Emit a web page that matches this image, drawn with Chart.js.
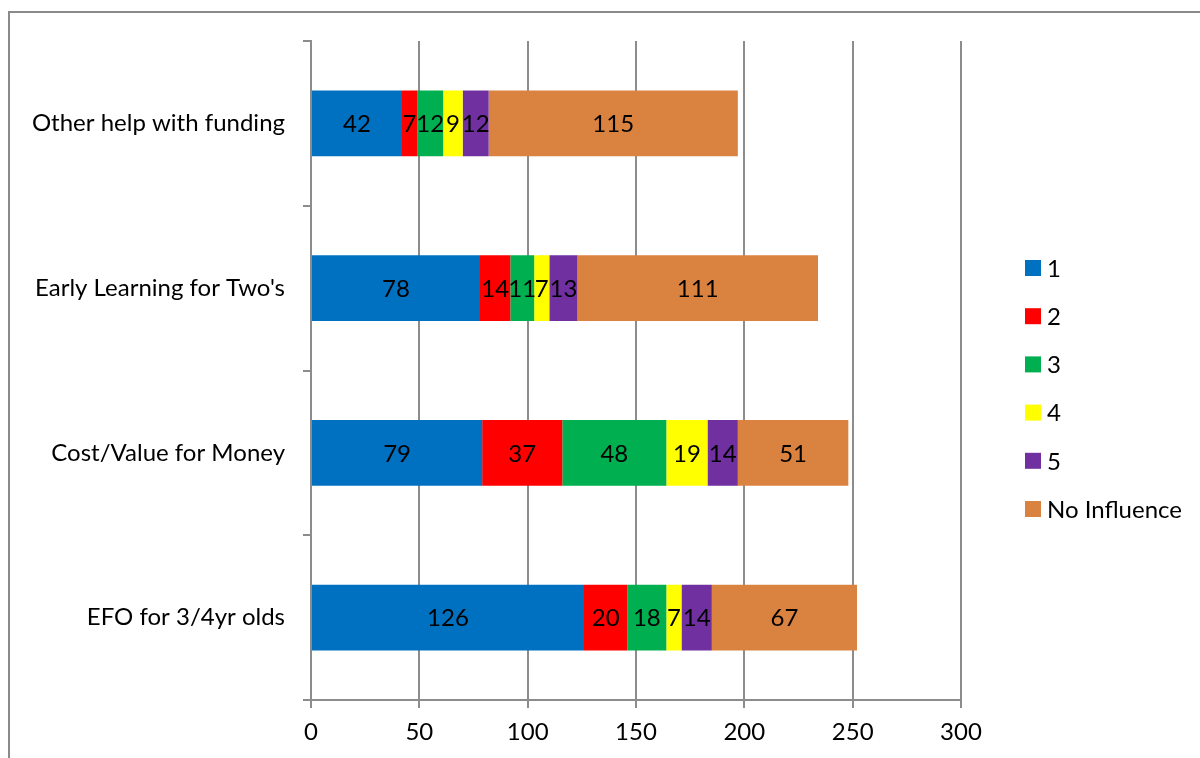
<!DOCTYPE html>
<html>
<head>
<meta charset="utf-8">
<script src="https://cdn.jsdelivr.net/npm/chart.js@4/dist/chart.umd.min.js"></script>
<style>
  html, body { margin: 0; padding: 0; background: #ffffff; }
  #wrap { width: 1200px; height: 758px; position: relative; }
</style>
</head>
<body>
<div id="wrap"><canvas id="c" width="1200" height="758"></canvas></div>
<script>
// Survey responses: how much each factor influenced the choice of childcare
const categories = [
  "Other help with funding",
  "Early Learning for Two's",
  "Cost/Value for Money",
  "EFO for 3/4yr olds"
];
const seriesNames = ["1", "2", "3", "4", "5", "No Influence"];
const rating1 = [42, 78, 79, 126];
const rating2 = [7, 14, 37, 20];
const rating3 = [12, 11, 48, 18];
const rating4 = [9, 7, 19, 7];
const rating5 = [12, 13, 14, 14];
const noInfluence = [115, 111, 51, 67];
const xTicks = [0, 50, 100, 150, 200, 250, 300];

const seriesValues = [rating1, rating2, rating3, rating4, rating5, noInfluence];
const seriesColors = ["#0070C0", "#FF0000", "#00B050", "#FFFF00", "#7030A0", "#DA8340"];

const FONT = "Lato, 'Open Sans', sans-serif";
const FONT_SIZE = 24;
const GRID = "#8c8c8c";

// Outer frame of the chart object
const framePlugin = {
  id: "frame",
  beforeDraw(chart) {
    const ctx = chart.ctx;
    ctx.save();
    ctx.fillStyle = "#ffffff";
    ctx.fillRect(0, 0, chart.width, chart.height);
    ctx.strokeStyle = "#8a8a8a";
    ctx.lineWidth = 2;
    ctx.beginPath();
    ctx.moveTo(9, chart.height + 2);
    ctx.lineTo(9, 12);
    ctx.lineTo(chart.width + 2, 12);
    ctx.stroke();
    ctx.restore();
  }
};

// Value labels centred on each bar segment
const valueLabelPlugin = {
  id: "valueLabels",
  afterDatasetsDraw(chart) {
    const ctx = chart.ctx;
    ctx.save();
    ctx.font = FONT_SIZE + "px " + FONT;
    ctx.fillStyle = "#000000";
    ctx.textAlign = "center";
    ctx.textBaseline = "middle";
    chart.data.datasets.forEach((ds, di) => {
      const meta = chart.getDatasetMeta(di);
      meta.data.forEach((el, i) => {
        const p = el.getCenterPoint();
        ctx.fillText(String(ds.data[i]), p.x, p.y + 1);
      });
    });
    ctx.restore();
  }
};

// Legend column on the right, built from the chart's own legend items
const sideLegendPlugin = {
  id: "sideLegend",
  afterDraw(chart) {
    const items = Chart.defaults.plugins.legend.labels.generateLabels(chart);
    const ctx = chart.ctx;
    ctx.save();
    ctx.font = FONT_SIZE + "px " + FONT;
    ctx.textAlign = "left";
    ctx.textBaseline = "middle";
    const x0 = 1025, y0 = 268, step = 48.2, box = 16;
    items.forEach((it, i) => {
      const y = y0 + i * step;
      ctx.fillStyle = it.fillStyle;
      ctx.fillRect(x0, y - box / 2, box, box);
      ctx.fillStyle = "#000000";
      ctx.fillText(it.text, x0 + 22, y + 1);
    });
    ctx.restore();
  }
};

new Chart(document.getElementById("c"), {
  type: "bar",
  data: {
    labels: categories,
    datasets: seriesNames.map((name, i) => ({
      label: name,
      data: seriesValues[i],
      backgroundColor: seriesColors[i],
      borderWidth: 0,
      barPercentage: 0.5,
      categoryPercentage: 0.8
    }))
  },
  options: {
    indexAxis: "y",
    responsive: false,
    animation: false,
    devicePixelRatio: 1,
    layout: { padding: { left: 0, top: 41, right: 239, bottom: 0 } },
    plugins: {
      legend: { display: false },
      tooltip: { enabled: false }
    },
    scales: {
      x: {
        stacked: true,
        min: xTicks[0],
        max: xTicks[xTicks.length - 1],
        afterBuildTicks(scale) {
          scale.ticks = xTicks.map(v => ({ value: v }));
        },
        afterFit(scale) { scale.height = 58; },
        grid: {
          color: GRID,
          lineWidth: 2,
          drawTicks: true,
          tickLength: 8,
          tickColor: GRID
        },
        border: { display: true, color: GRID, width: 2 },
        ticks: {
          color: "#000000",
          font: { size: FONT_SIZE, family: FONT },
          padding: 10,
          maxRotation: 0
        }
      },
      y: {
        stacked: true,
        afterFit(scale) { scale.width = 311; },
        grid: {
          offset: true,
          drawOnChartArea: false,
          drawTicks: true,
          tickLength: 8,
          color: GRID,
          lineWidth: 2
        },
        border: { display: true, color: GRID, width: 2 },
        ticks: {
          color: "#000000",
          font: { size: FONT_SIZE, family: FONT },
          padding: 18,
          autoSkip: false
        }
      }
    }
  },
  plugins: [framePlugin, valueLabelPlugin, sideLegendPlugin]
});
</script>
</body>
</html>
